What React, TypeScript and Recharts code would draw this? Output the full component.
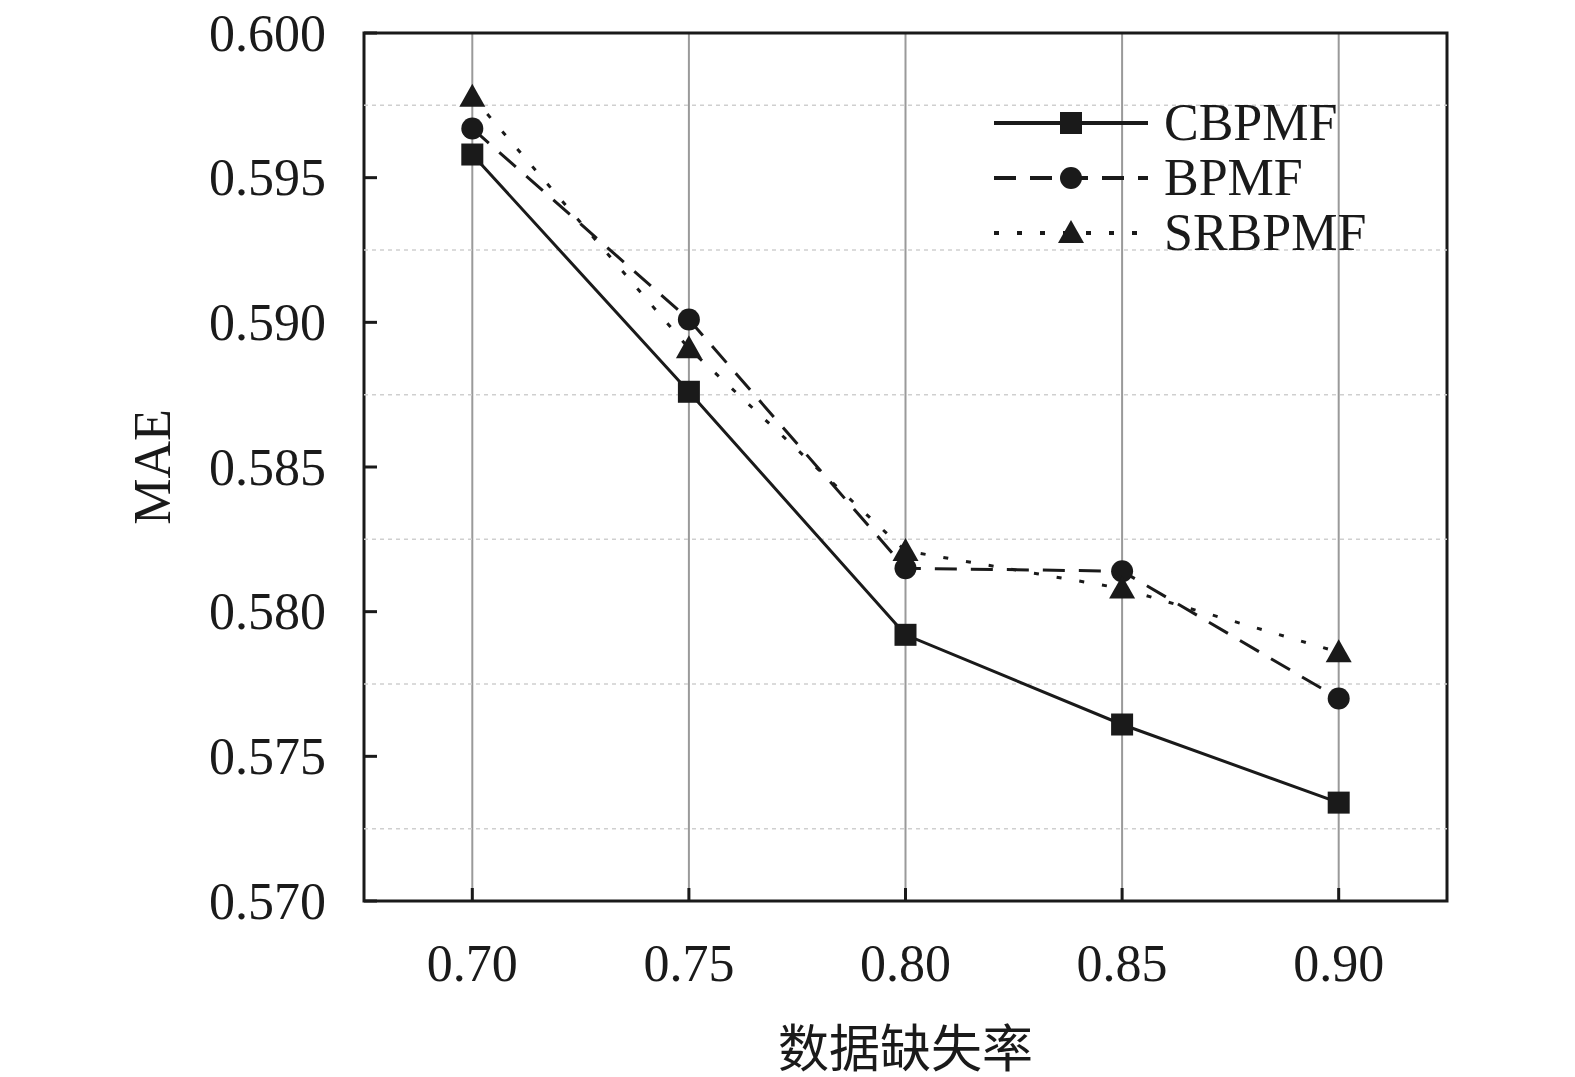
import React from "react";
import {
  LineChart,
  Line,
  XAxis,
  YAxis,
  CartesianGrid,
  ReferenceLine,
  ReferenceArea,
} from "recharts";

const rates = [0.7, 0.75, 0.8, 0.85, 0.9];
const cbpmf = [0.5958, 0.5876, 0.5792, 0.5761, 0.5734];
const bpmf = [0.5967, 0.5901, 0.5815, 0.5814, 0.577];
const srbpmf = [0.5978, 0.5891, 0.5821, 0.5808, 0.5786];

const xTicks = [0.7, 0.75, 0.8, 0.85, 0.9];
const yTicks = [0.57, 0.575, 0.58, 0.585, 0.59, 0.595, 0.6];
const yMinor = [0.5725, 0.5775, 0.5825, 0.5875, 0.5925, 0.5975];
const xDomain = [0.675, 0.925];
const yDomain = [0.57, 0.6];

const data = rates.map((r, i) => ({
  rate: r,
  CBPMF: cbpmf[i],
  BPMF: bpmf[i],
  SRBPMF: srbpmf[i],
}));

const INK = "#1a1a1a";
const SERIF = "'Liberation Serif', 'Times New Roman', serif";

const series = [
  { key: "CBPMF", dash: undefined as string | undefined, shape: "square" },
  { key: "BPMF", dash: "22 14", shape: "circle" },
  { key: "SRBPMF", dash: "5 18", shape: "triangle" },
];

function Marker({ cx, cy, shape }: { cx: number; cy: number; shape: string }) {
  if (cx == null || cy == null) return null;
  if (shape === "square")
    return <rect x={cx - 11} y={cy - 11} width={22} height={22} fill={INK} />;
  if (shape === "circle") return <circle cx={cx} cy={cy} r={11} fill={INK} />;
  return (
    <polygon
      points={`${cx},${cy - 13} ${cx - 13},${cy + 10} ${cx + 13},${cy + 10}`}
      fill={INK}
    />
  );
}

function YTick(props: any) {
  const { x, y, payload } = props;
  return (
    <g>
      <line x1={x} y1={y} x2={x + 13} y2={y} stroke={INK} strokeWidth={3} />
      <text
        x={x - 38}
        y={y}
        textAnchor="end"
        dominantBaseline="central"
        fontFamily={SERIF}
        fontSize={52}
        fill={INK}
      >
        {payload.value.toFixed(3)}
      </text>
    </g>
  );
}

function XTick(props: any) {
  const { x, y, payload } = props;
  return (
    <g>
      <line x1={x} y1={y} x2={x} y2={y - 13} stroke={INK} strokeWidth={3} />
      <text
        x={x}
        y={y + 62}
        textAnchor="middle"
        dominantBaseline="central"
        fontFamily={SERIF}
        fontSize={52}
        fill={INK}
      >
        {payload.value.toFixed(2)}
      </text>
    </g>
  );
}

function LegendBox() {
  return (
    <div
      style={{
        position: "absolute",
        left: 994,
        top: 95,
        fontFamily: SERIF,
        fontSize: 52,
        color: INK,
        lineHeight: "55px",
      }}
    >
      {series.map((s) => (
        <div key={s.key} style={{ display: "flex", alignItems: "center", height: 55 }}>
          <svg width={170} height={40} style={{ display: "block" }}>
            <line
              x1={0}
              y1={20}
              x2={154}
              y2={20}
              stroke={INK}
              strokeWidth={4}
              strokeDasharray={s.dash}
            />
            <Marker cx={77} cy={20} shape={s.shape} />
          </svg>
          <span>{s.key}</span>
        </div>
      ))}
    </div>
  );
}

export default function App() {
  return (
    <div
      style={{
        position: "absolute",
        left: 0,
        top: 0,
        width: 1575,
        height: 1077,
        overflow: "hidden",
        background: "#fff",
      }}
    >
      <style>{`html, body { margin: 0; padding: 0; overflow: hidden; }`}</style>
      <LineChart
        width={1575}
        height={1077}
        data={data}
        margin={{ top: 33, right: 128, bottom: 0, left: 0 }}
      >
        <CartesianGrid horizontal={false} vertical stroke="#9a9a9a" strokeWidth={2} />
        {yMinor.map((v) => (
          <ReferenceLine
            key={v}
            y={v}
            stroke="#cfcfcf"
            strokeWidth={1.5}
            strokeDasharray="4 4"
          />
        ))}
        <XAxis
          dataKey="rate"
          type="number"
          domain={xDomain}
          ticks={xTicks}
          height={176}
          tickSize={0}
          tickMargin={0}
          tickLine={false}
          axisLine={false}
          tick={<XTick />}
          label={{
            value: "数据缺失率",
            position: "insideBottom",
            offset: 10,
            fontSize: 51,
            fill: INK,
            fontFamily: "'Liberation Serif', 'Noto Sans CJK SC', serif",
          }}
        />
        <YAxis
          type="number"
          domain={yDomain}
          ticks={yTicks}
          width={364}
          tickSize={0}
          tickMargin={0}
          tickLine={false}
          axisLine={false}
          tick={<YTick />}
          label={{
            value: "MAE",
            angle: -90,
            position: "insideLeft",
            offset: 152,
            fontSize: 52,
            fill: INK,
            fontFamily: SERIF,
            style: { textAnchor: "middle" },
          }}
        />
        <ReferenceArea
          x1={xDomain[0]}
          x2={xDomain[1]}
          y1={yDomain[0]}
          y2={yDomain[1]}
          fill="none"
          stroke={INK}
          strokeWidth={3}
        />
        {series.map((s) => (
          <Line
            key={s.key}
            dataKey={s.key}
            stroke={INK}
            strokeWidth={3}
            strokeDasharray={s.dash}
            isAnimationActive={false}
            dot={(p: any) => <Marker key={p.index} cx={p.cx} cy={p.cy} shape={s.shape} />}
            activeDot={false}
          />
        ))}
      </LineChart>
      <LegendBox />
    </div>
  );
}
